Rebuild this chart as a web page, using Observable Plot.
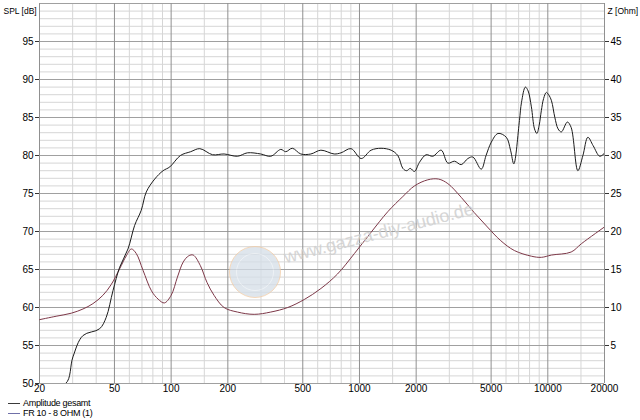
<!DOCTYPE html>
<html><head><meta charset="utf-8">
<script src="https://cdn.jsdelivr.net/npm/d3@7"></script>
<script src="https://cdn.jsdelivr.net/npm/@observablehq/plot@0.6"></script>
<style>
body{margin:0;background:#fff;font-family:"Liberation Sans",Arial,sans-serif;}
#wrap{position:relative;width:640px;height:420px;overflow:hidden;}
#legend{position:absolute;left:0;top:398px;font-size:9px;line-height:10px;letter-spacing:-0.3px;color:#000;}
.row{position:relative;height:10px;padding-left:23px;white-space:nowrap;}
.sw{position:absolute;left:8px;top:5px;width:12px;height:0;border-top:1px solid;}
#logo{position:absolute;left:229px;top:246px;width:50px;height:50px;border-radius:50%;border:1px solid #f2cba3;background:#d5dee8;opacity:0.75;}
#logo .in{position:absolute;left:6px;top:6px;width:36px;height:36px;border-radius:50%;border:1px solid #e9eef3;}
#wm{position:absolute;left:287px;top:247px;font-size:18px;color:#cfcfcf;transform:rotate(-14.5deg);transform-origin:0 100%;white-space:nowrap;opacity:0.85;}
</style></head><body>
<div id="wrap"></div>
<script>
// Amplitude gesamt (SPL, dB)
const splFreq = [20,27.5,30.1,34,41.7,45.2,49.1,53.3,59,64,69.4,73.8,81.8,90.6,98.4,112,127,142,166,191,225,254,299,338,382,406,440,488,552,624,734,798,902,1021,1153,1302,1472,1598,1700,1780,1860,1960,2082,2258,2452,2716,2946,3196,3468,3764,4000,4431,4700,5012,5440,6020,6340,6600,7070,7250,7600,7860,8180,8500,8750,9000,9240,9500,9820,10100,10460,10900,11340,11800,12700,13300,14440,15360,16320,17400,18880,20000];
const splDb = [50,50,53.5,56.3,57.2,58.7,62.2,65.3,67.7,70.8,72.8,75.2,76.9,78,78.5,80,80.5,80.9,80.1,80.2,79.9,80.35,80.2,79.9,80.8,80.5,80.95,80.2,80.2,80.7,80.2,80.35,80.9,79.6,80.7,80.95,80.7,80,78.3,78,78.3,77.9,79.1,80.1,79.9,80.7,79,79.25,78.8,79.6,79.8,78.2,80,81.75,82.9,82.4,80.7,78.9,84.6,87,89,88.5,86.4,83.5,82.9,84,85.9,87.5,88.3,88,87.2,85,83.5,83.1,84.4,83.7,78,80,82.4,81.3,79.9,80.3];
// FR 10 - 8 OHM (1) (impedance, Ohm)
const zFreq = [20,24.5,29.5,34,38.4,43.4,48,53.3,57.8,61.5,65.3,70.9,78.6,85.3,92,100,108,116,124,131,143,155,169,191,225,276,338,416,509,624,764,940,1153,1413,1700,1960,2304,2628,2946,3468,4063,4776,5620,6640,8180,9240,10460,13300,15090,20000];
const zOhm = [8.4,8.85,9.25,9.8,10.5,11.6,13,15.1,16.8,17.7,17.1,14.9,12.2,11.1,10.6,11.6,14,16,16.8,16.9,15.5,13.3,11.6,10,9.4,9.1,9.4,10,11.05,12.5,14.4,17.1,19.9,22.6,24.6,26,26.8,26.9,26.3,24.5,22.5,20.6,18.8,17.5,16.75,16.6,16.9,17.3,18.4,20.6];

const xTicks = [20,50,100,200,500,1000,2000,5000,10000,20000];
const xMinor = [30,40,60,70,80,90,150,300,400,600,700,800,900,1500,3000,4000,6000,7000,8000,9000,15000];
const splTicks = [50,55,60,65,70,75,80,85,90,95];
const zTicks = [5,10,15,20,25,30,35,40,45];
const yMajor = [50,55,60,65,70,75,80,85,90,95,100];
const yMinor = d3.range(51,100).filter(d => d % 5 !== 0);
const zOffset = 50; // Z axis 0..50 Ohm shares the 50..100 dB range

const spl = splFreq.map((f,i) => ({f, v: splDb[i]}));
const imp = zFreq.map((f,i) => ({f, v: zOhm[i] + zOffset}));

const chart = Plot.plot({
  width: 640, height: 398,
  marginTop: 3, marginLeft: 39, marginRight: 36, marginBottom: 15,
  x: {type: "log", domain: [20, 20000], axis: null},
  y: {domain: [50, 100], axis: null},
  style: {fontFamily: "'Liberation Sans', Arial, sans-serif", fontSize: "10px", color: "#000", background: "transparent", overflow: "visible"},
  marks: [
    Plot.ruleY(yMinor, {stroke: "#d6d6d6", strokeWidth: 1}),
    Plot.ruleX(xMinor, {stroke: "#d6d6d6", strokeWidth: 1}),
    Plot.ruleY(yMajor, {stroke: "#a0a0a0", strokeWidth: 1}),
    Plot.ruleX(xTicks, {stroke: "#909090", strokeWidth: 1}),
    Plot.line(imp, {x: "f", y: "v", stroke: "#7d3848", strokeWidth: 1, curve: "catmull-rom", clip: true}),
    Plot.line(spl, {x: "f", y: "v", stroke: "#1c1c1c", strokeWidth: 1, curve: "catmull-rom", clip: true}),
    Plot.axisY(splTicks, {anchor: "left", tickSize: 4, tickPadding: 2, label: null, stroke: "#333"}),
    Plot.axisY(zTicks.map(z => z + zOffset), {anchor: "right", tickSize: 4, tickPadding: 2, label: null, tickFormat: d => String(d - zOffset), stroke: "#333"}),
    Plot.text(xTicks, {x: d => d, text: d => String(d), frameAnchor: "bottom", dy: 8, fontSize: 10}),
    Plot.text(["SPL [dB]"], {frameAnchor: "top-left", dx: -36, dy: 4, textAnchor: "start", fontSize: 8.5}),
    Plot.text(["Z [Ohm]"], {frameAnchor: "top-right", dx: 3, dy: 4, textAnchor: "start", fontSize: 8.5})
  ]
});

const wrap = document.getElementById("wrap");
wrap.appendChild(chart);
wrap.insertAdjacentHTML("beforeend",
  '<div id="logo"><div class="in"></div></div><div id="wm">www.gazza-diy-audio.de</div>' +
  '<div id="legend"><div class="row"><span class="sw" style="border-color:#3a3a3a"></span>Amplitude gesamt</div>' +
  '<div class="row"><span class="sw" style="border-color:#7070a8"></span>FR 10 - 8 OHM (1)</div></div>');
</script>
</body></html>
